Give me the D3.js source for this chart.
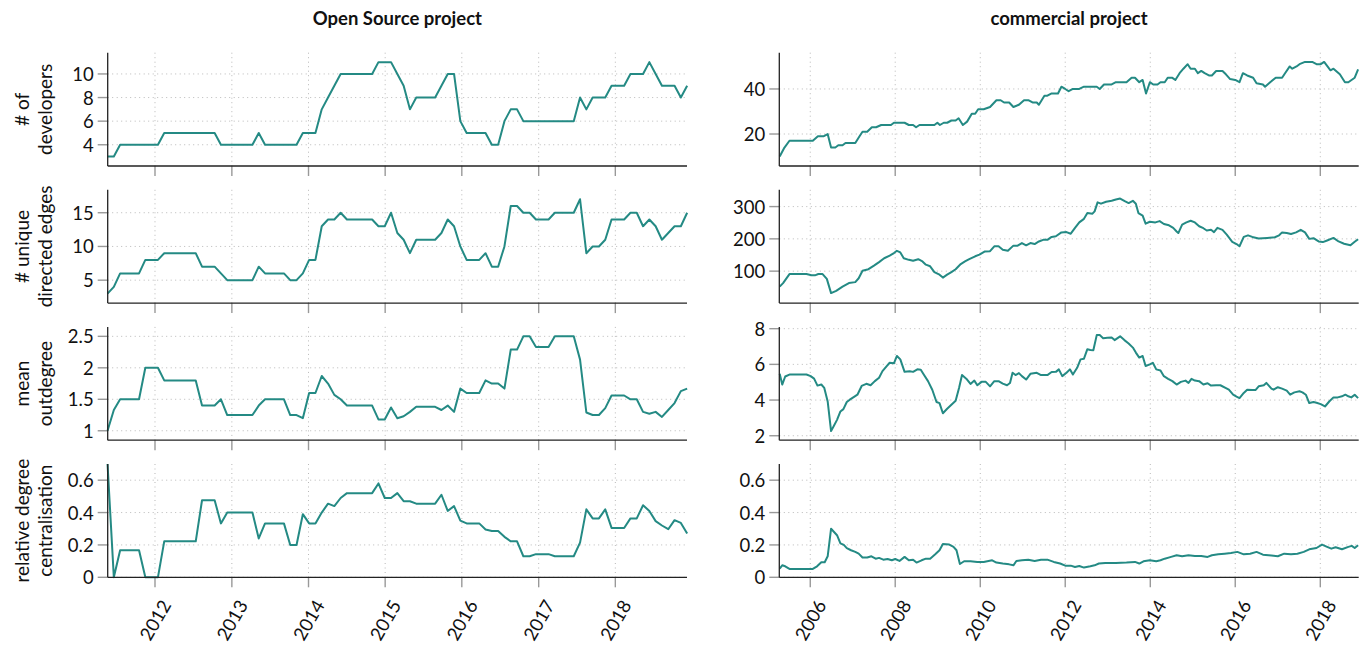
<!DOCTYPE html>
<html><head><meta charset="utf-8">
<script src="https://cdn.jsdelivr.net/npm/d3@7"></script>
<style>body{margin:0;background:#fff} svg{font-family:Lato, "Noto Sans", sans-serif}</style>
</head><body><svg id="c" width="1369" height="650"></svg>
<script>
// ---------- DATA ----------
const titles = ["Open Source project", "commercial project"];
const yLabels = [["# of", "developers"], ["# unique", "directed edges"], ["mean", "outdegree"], ["relative degree", "centralisation"]];
const osYearTicks = [2012, 2013, 2014, 2015, 2016, 2017, 2018];
const comYearTicks = [2006, 2008, 2010, 2012, 2014, 2016, 2018];
const osRange = [2011.383, 2018.935];
const comRange = [2005.271, 2018.904];
const osStart = "2011-05-20"; // monthly (30-day) snapshots
const osStepDays = 30;

const osDevelopers = [3,3,4,4,4,4,4,4,4,5,5,5,5,5,5,5,5,5,4,4,4,4,4,4,5,4,4,4,4,4,4,5,5,5,7,8,9,10,10,10,10,10,10,11,11,11,10,9,7,8,8,8,8,9,10,10,6,5,5,5,5,4,4,6,7,7,6,6,6,6,6,6,6,6,6,8,7,8,8,8,9,9,9,10,10,10,11,10,9,9,9,8,9];
const osEdges = [3,4,6,6,6,6,8,8,8,9,9,9,9,9,9,7,7,7,6,5,5,5,5,5,7,6,6,6,6,5,5,6,8,8,13,14,14,15,14,14,14,14,14,13,13,15,12,11,9,11,11,11,11,12,14,13,10,8,8,8,9,7,7,10,16,16,15,15,14,14,14,15,15,15,15,17,9,10,10,11,14,14,14,15,15,13,14,13,11,12,13,13,15];
const osOutdegree = [1,1.33,1.5,1.5,1.5,1.5,2,2,2,1.8,1.8,1.8,1.8,1.8,1.8,1.4,1.4,1.4,1.5,1.25,1.25,1.25,1.25,1.25,1.4,1.5,1.5,1.5,1.5,1.25,1.25,1.2,1.6,1.6,1.87,1.75,1.57,1.5,1.4,1.4,1.4,1.4,1.4,1.18,1.18,1.37,1.2,1.23,1.3,1.38,1.38,1.38,1.38,1.33,1.4,1.3,1.67,1.6,1.6,1.6,1.8,1.75,1.75,1.67,2.29,2.29,2.5,2.5,2.33,2.33,2.33,2.5,2.5,2.5,2.5,2.13,1.29,1.25,1.25,1.36,1.56,1.56,1.56,1.5,1.5,1.3,1.27,1.3,1.22,1.33,1.44,1.63,1.67];
const osCentral = [0.7,0,0.167,0.167,0.167,0.167,0,0,0,0.222,0.222,0.222,0.222,0.222,0.222,0.476,0.476,0.476,0.333,0.4,0.4,0.4,0.4,0.4,0.24,0.333,0.333,0.333,0.333,0.2,0.2,0.39,0.333,0.333,0.4,0.455,0.44,0.49,0.52,0.52,0.52,0.52,0.52,0.58,0.49,0.49,0.52,0.47,0.47,0.455,0.455,0.455,0.455,0.51,0.41,0.44,0.35,0.333,0.333,0.333,0.295,0.286,0.286,0.25,0.222,0.222,0.13,0.13,0.143,0.143,0.143,0.13,0.13,0.13,0.13,0.214,0.42,0.364,0.364,0.42,0.305,0.305,0.305,0.364,0.364,0.445,0.41,0.347,0.32,0.297,0.353,0.336,0.27];

// commercial project: [decimal year, value]
const comDevelopers = [[2005.28,10],[2005.38,13.6],[2005.51,17],[2006.06,17],[2006.18,19],[2006.31,19],[2006.41,20],[2006.49,14],[2006.59,14],[2006.66,15],[2006.76,15],[2006.83,16],[2007.06,16],[2007.16,19],[2007.23,21],[2007.34,21],[2007.45,23],[2007.55,23],[2007.67,24],[2007.90,24],[2007.97,25],[2008.22,25],[2008.32,24],[2008.42,24],[2008.49,23],[2008.57,24],[2008.92,24],[2008.99,25],[2009.05,24],[2009.14,25],[2009.22,25],[2009.32,26],[2009.42,26],[2009.49,27],[2009.59,24],[2009.69,25.5],[2009.80,29],[2009.88,29],[2009.95,31],[2010.08,31],[2010.23,32],[2010.38,35],[2010.48,35],[2010.56,34],[2010.68,34],[2010.78,32],[2010.91,33],[2011.03,35],[2011.13,35],[2011.23,34],[2011.33,34],[2011.38,33],[2011.51,37],[2011.58,37],[2011.68,38],[2011.83,38],[2011.91,41],[2012.00,40],[2012.08,39],[2012.18,40],[2012.33,40],[2012.44,41],[2012.74,41],[2012.81,40],[2012.91,42],[2013.09,42],[2013.19,43],[2013.44,43],[2013.56,45],[2013.64,45],[2013.74,43],[2013.82,44],[2013.90,38],[2013.99,43],[2014.07,42],[2014.17,42],[2014.24,43],[2014.34,43],[2014.41,45],[2014.51,45],[2014.59,44],[2014.69,47],[2014.78,49],[2014.88,51],[2014.95,49],[2015.05,49],[2015.12,47],[2015.20,48],[2015.28,47],[2015.38,46],[2015.45,46],[2015.55,48],[2015.70,48],[2015.78,46.5],[2015.88,44.4],[2016.00,44],[2016.10,43],[2016.18,47],[2016.28,46],[2016.42,45],[2016.50,42.5],[2016.65,42],[2016.70,41],[2016.82,43],[2016.95,45],[2017.10,45],[2017.17,47],[2017.28,50],[2017.34,49],[2017.44,50],[2017.51,51],[2017.64,52],[2017.81,52],[2017.91,51],[2018.01,51],[2018.09,52],[2018.24,48.3],[2018.31,49],[2018.46,46.5],[2018.58,43],[2018.66,43],[2018.81,45],[2018.89,48.7]];
const comEdges = [[2005.28,52],[2005.36,63],[2005.51,91],[2005.91,91],[2006.03,87],[2006.11,87],[2006.19,91],[2006.29,91],[2006.39,76],[2006.49,32],[2006.61,39],[2006.76,52],[2006.91,63],[2007.06,66],[2007.14,78],[2007.23,101],[2007.37,106],[2007.50,117],[2007.62,128],[2007.74,140],[2007.87,148],[2007.97,156],[2008.04,163],[2008.12,158],[2008.20,140],[2008.32,135],[2008.42,132],[2008.54,137],[2008.64,130],[2008.72,120],[2008.82,115],[2008.92,97],[2009.04,89],[2009.12,80],[2009.22,89],[2009.32,97],[2009.42,106],[2009.54,122],[2009.64,130],[2009.74,137],[2009.88,146],[2009.98,151],[2010.11,161],[2010.23,162],[2010.33,177],[2010.43,177],[2010.53,166],[2010.65,163],[2010.78,179],[2010.88,179],[2010.98,187],[2011.08,180],[2011.18,187],[2011.28,184],[2011.38,192],[2011.48,197],[2011.58,197],[2011.68,206],[2011.78,208],[2011.91,220],[2012.03,221],[2012.13,216],[2012.23,234],[2012.33,251],[2012.44,262],[2012.52,280],[2012.64,278],[2012.69,285],[2012.76,313],[2012.84,309],[2012.96,315],[2013.09,318],[2013.19,322],[2013.29,325],[2013.41,316],[2013.49,311],[2013.59,318],[2013.66,309],[2013.72,280],[2013.82,272],[2013.89,247],[2013.99,253],[2014.12,251],[2014.22,255],[2014.32,246],[2014.44,242],[2014.54,234],[2014.62,223],[2014.66,218],[2014.75,244],[2014.85,251],[2014.95,256],[2015.05,251],[2015.15,239],[2015.25,233],[2015.33,226],[2015.43,228],[2015.50,221],[2015.58,234],[2015.70,228],[2015.80,213],[2015.93,191],[2016.03,184],[2016.10,177],[2016.20,206],[2016.30,211],[2016.40,206],[2016.55,201],[2016.75,203],[2016.93,205],[2017.03,211],[2017.10,220],[2017.21,218],[2017.31,215],[2017.43,220],[2017.54,228],[2017.64,220],[2017.74,200],[2017.84,202],[2017.96,192],[2018.06,190],[2018.16,195],[2018.31,203],[2018.43,192],[2018.56,185],[2018.71,180],[2018.81,191],[2018.89,199]];
const comOutdegree = [[2005.28,5.47],[2005.34,4.87],[2005.41,5.32],[2005.51,5.43],[2005.91,5.43],[2006.01,5.34],[2006.09,5.2],[2006.17,4.81],[2006.26,4.87],[2006.33,4.68],[2006.41,3.92],[2006.49,2.26],[2006.56,2.57],[2006.63,2.89],[2006.71,3.36],[2006.78,3.49],[2006.86,3.89],[2006.93,4.02],[2007.04,4.19],[2007.11,4.3],[2007.21,4.79],[2007.32,4.91],[2007.42,4.83],[2007.52,5.06],[2007.62,5.25],[2007.70,5.62],[2007.80,5.9],[2007.87,6.09],[2007.97,6.06],[2008.04,6.47],[2008.12,6.28],[2008.22,5.58],[2008.34,5.62],[2008.42,5.58],[2008.52,5.72],[2008.60,5.7],[2008.67,5.43],[2008.77,5.06],[2008.87,4.58],[2008.97,3.89],[2009.04,3.83],[2009.12,3.26],[2009.22,3.51],[2009.32,3.74],[2009.42,3.96],[2009.50,4.68],[2009.57,5.4],[2009.67,5.2],[2009.77,4.9],[2009.86,5.09],[2009.93,4.83],[2010.03,5.02],[2010.13,5.02],[2010.23,4.77],[2010.33,5.06],[2010.43,5.06],[2010.53,4.92],[2010.63,4.83],[2010.70,4.96],[2010.76,5.53],[2010.83,5.4],[2010.91,5.51],[2010.98,5.34],[2011.08,5.15],[2011.18,5.47],[2011.33,5.53],[2011.43,5.4],[2011.58,5.4],[2011.68,5.57],[2011.78,5.58],[2011.85,5.72],[2011.93,5.34],[2012.03,5.53],[2012.11,5.72],[2012.18,5.43],[2012.28,5.81],[2012.36,6.28],[2012.44,6.32],[2012.52,6.85],[2012.59,6.81],[2012.66,6.79],[2012.74,7.64],[2012.81,7.64],[2012.89,7.47],[2012.99,7.49],[2013.09,7.51],[2013.16,7.36],[2013.29,7.57],[2013.39,7.36],[2013.49,7.17],[2013.59,6.94],[2013.66,6.66],[2013.74,6.38],[2013.82,6.47],[2013.89,5.91],[2013.99,6.0],[2014.06,6.09],[2014.14,5.72],[2014.24,5.66],[2014.32,5.34],[2014.42,5.19],[2014.52,5.06],[2014.62,4.87],[2014.72,5.02],[2014.83,5.09],[2014.90,4.96],[2014.97,5.19],[2015.05,5.09],[2015.15,5.06],[2015.25,4.87],[2015.35,4.94],[2015.43,4.81],[2015.55,4.83],[2015.65,4.83],[2015.77,4.68],[2015.85,4.58],[2015.95,4.3],[2016.03,4.19],[2016.10,4.11],[2016.20,4.4],[2016.28,4.58],[2016.40,4.57],[2016.48,4.57],[2016.55,4.77],[2016.67,4.83],[2016.73,4.96],[2016.85,4.64],[2016.90,4.58],[2017.00,4.72],[2017.10,4.64],[2017.21,4.53],[2017.29,4.3],[2017.39,4.43],[2017.51,4.49],[2017.58,4.43],[2017.66,4.3],[2017.74,3.83],[2017.84,3.89],[2017.91,3.85],[2018.01,3.77],[2018.11,3.64],[2018.21,3.92],[2018.31,4.15],[2018.41,4.15],[2018.51,4.21],[2018.59,4.3],[2018.66,4.21],[2018.73,4.15],[2018.81,4.3],[2018.89,4.11]];
const comCentral = [[2005.28,0.054],[2005.34,0.074],[2005.41,0.068],[2005.51,0.052],[2006.06,0.052],[2006.16,0.068],[2006.26,0.093],[2006.34,0.093],[2006.41,0.13],[2006.49,0.30],[2006.56,0.28],[2006.63,0.26],[2006.71,0.21],[2006.79,0.20],[2006.86,0.18],[2006.96,0.167],[2007.06,0.157],[2007.14,0.146],[2007.23,0.122],[2007.34,0.122],[2007.44,0.13],[2007.54,0.115],[2007.62,0.12],[2007.72,0.109],[2007.82,0.113],[2007.92,0.105],[2008.00,0.113],[2008.10,0.101],[2008.22,0.126],[2008.32,0.105],[2008.42,0.109],[2008.50,0.091],[2008.62,0.105],[2008.72,0.115],[2008.82,0.115],[2008.94,0.142],[2009.04,0.167],[2009.12,0.206],[2009.27,0.202],[2009.37,0.188],[2009.44,0.167],[2009.52,0.082],[2009.62,0.099],[2009.77,0.099],[2009.93,0.095],[2010.08,0.095],[2010.28,0.105],[2010.38,0.091],[2010.53,0.085],[2010.68,0.080],[2010.78,0.074],[2010.85,0.101],[2010.98,0.105],[2011.13,0.109],[2011.28,0.101],[2011.43,0.109],[2011.58,0.109],[2011.73,0.095],[2011.88,0.085],[2012.00,0.072],[2012.13,0.072],[2012.23,0.064],[2012.33,0.070],[2012.44,0.060],[2012.59,0.068],[2012.69,0.074],[2012.79,0.085],[2012.94,0.089],[2013.19,0.089],[2013.44,0.091],[2013.64,0.095],[2013.74,0.085],[2013.84,0.099],[2013.99,0.105],[2014.14,0.099],[2014.24,0.105],[2014.34,0.115],[2014.49,0.126],[2014.62,0.136],[2014.75,0.13],[2014.90,0.136],[2015.05,0.132],[2015.20,0.132],[2015.35,0.126],[2015.45,0.136],[2015.60,0.142],[2015.75,0.146],[2015.90,0.15],[2016.05,0.157],[2016.20,0.142],[2016.35,0.146],[2016.50,0.157],[2016.65,0.14],[2016.85,0.134],[2017.00,0.13],[2017.15,0.146],[2017.31,0.142],[2017.46,0.146],[2017.61,0.157],[2017.74,0.173],[2017.91,0.181],[2018.04,0.202],[2018.16,0.188],[2018.26,0.177],[2018.36,0.186],[2018.51,0.173],[2018.66,0.188],[2018.74,0.194],[2018.81,0.181],[2018.89,0.198]];

const osYDomains = [[2.2, 11.8], [1.6, 18.4], [0.85, 2.65], [0, 0.7]];
const comYDomains = [[5.8, 56.1], [1, 352], [1.75, 8.1], [0, 0.7]];
const osYTicks = [[4, 6, 8, 10], [5, 10, 15], [1, 1.5, 2, 2.5], [0, 0.2, 0.4, 0.6]];
const comYTicks = [[20, 40], [100, 200, 300], [2, 4, 6, 8], [0, 0.2, 0.4, 0.6]];

// ---------- HELPERS ----------
function yearToDate(y) {
  const yr = Math.floor(y);
  const a = Date.UTC(yr, 0, 1), b = Date.UTC(yr + 1, 0, 1);
  return new Date(a + (y - yr) * (b - a));
}
const osStartDate = new Date(osStart + "T00:00:00Z");
const osDates = osDevelopers.map((_, i) => d3.utcDay.offset(osStartDate, i * osStepDays));
const osSeries = [osDevelopers, osEdges, osOutdegree, osCentral].map(arr => arr.map((v, i) => [osDates[i], v]));
const comSeries = [comDevelopers, comEdges, comOutdegree, comCentral].map(arr => arr.map(d => [yearToDate(d[0]), d[1]]));

// ---------- LAYOUT ----------
const rowTop = [52.7, 189.8, 326.9, 464.0];
const rowH = 113.3;
const lineColor = "#248a84";
const tickFont = 18.5, labelFont = 19;
const cols = [
  { x0: 107.7, x1: 687, range: osRange, ticks: osYearTicks, series: osSeries, yDom: osYDomains, yTicks: osYTicks, title: titles[0], labels: true },
  { x0: 779.3, x1: 1358.7, range: comRange, ticks: comYearTicks, series: comSeries, yDom: comYDomains, yTicks: comYTicks, title: titles[1], labels: false }
];

const svg = d3.select("#c");
const fmt = v => (Math.round(v * 100) / 100).toString();

cols.forEach(col => {
  const x = d3.scaleUtc().domain(col.range.map(yearToDate)).range([col.x0, col.x1]);
  const tickDates = col.ticks.map(t => new Date(Date.UTC(t, 0, 1)));

  svg.append("text")
    .attr("x", (col.x0 + col.x1) / 2).attr("y", 18)
    .attr("text-anchor", "middle").attr("dominant-baseline", "central")
    .attr("font-size", 18.5).attr("font-weight", "bold").attr("fill", "#111")
    .text(col.title);

  col.series.forEach((data, r) => {
    const top = rowTop[r], bot = top + rowH;
    const y = d3.scaleLinear().domain(col.yDom[r]).range([bot, top]);
    const g = svg.append("g");

    // grid
    g.selectAll(".gx").data(tickDates).join("line")
      .attr("x1", d => x(d)).attr("x2", d => x(d)).attr("y1", top).attr("y2", bot)
      .attr("stroke", "#b8b8b8").attr("stroke-width", 1).attr("stroke-dasharray", "1,3.5");
    g.selectAll(".gy").data(col.yTicks[r]).join("line")
      .attr("x1", col.x0).attr("x2", col.x1).attr("y1", d => y(d)).attr("y2", d => y(d))
      .attr("stroke", "#b8b8b8").attr("stroke-width", 1).attr("stroke-dasharray", "1,3.5");

    // x ticks
    g.selectAll(".tx").data(tickDates).join("line")
      .attr("x1", d => x(d)).attr("x2", d => x(d)).attr("y1", bot).attr("y2", bot + 10)
      .attr("stroke", "#999").attr("stroke-width", 1.4);
    // y ticks
    g.selectAll(".ty").data(col.yTicks[r]).join("line")
      .attr("x1", col.x0 - 10).attr("x2", col.x0).attr("y1", d => y(d)).attr("y2", d => y(d))
      .attr("stroke", "#999").attr("stroke-width", 1.4);
    g.selectAll(".ly").data(col.yTicks[r]).join("text")
      .attr("x", col.x0 - 14).attr("y", d => y(d))
      .attr("text-anchor", "end").attr("dominant-baseline", "central")
      .attr("font-size", tickFont).attr("fill", "#111").text(fmt);

    // line
    const line = d3.line().x(d => x(d[0])).y(d => y(d[1]));
    g.append("path").datum(data).attr("d", line)
      .attr("fill", "none").attr("stroke", lineColor).attr("stroke-width", 2)
      .attr("stroke-linejoin", "round");

    // spines
    g.append("line").attr("x1", col.x0).attr("x2", col.x0).attr("y1", top).attr("y2", bot)
      .attr("stroke", "#222").attr("stroke-width", 1.3);
    g.append("line").attr("x1", col.x0).attr("x2", col.x1).attr("y1", bot).attr("y2", bot)
      .attr("stroke", "#222").attr("stroke-width", 1.3);

    // y axis title (left column only)
    if (col.labels) {
      const cy = (top + bot) / 2;
      yLabels[r].forEach((txt, k) => {
        const cx = 21 + k * 23;
        svg.append("text").attr("transform", `translate(${cx},${cy}) rotate(-90)`)
          .attr("text-anchor", "middle").attr("dominant-baseline", "central")
          .attr("font-size", labelFont).attr("fill", "#111").text(txt);
      });
    }

    // x tick labels on bottom row
    if (r === col.series.length - 1) {
      g.selectAll(".lx").data(tickDates).join("text")
        .attr("transform", d => `translate(${x(d)},620) rotate(-60)`)
        .attr("text-anchor", "middle").attr("dominant-baseline", "central")
        .attr("font-size", tickFont).attr("fill", "#111")
        .text(d => d3.utcFormat("%Y")(d));
    }
  });
});
</script>
</body></html>
